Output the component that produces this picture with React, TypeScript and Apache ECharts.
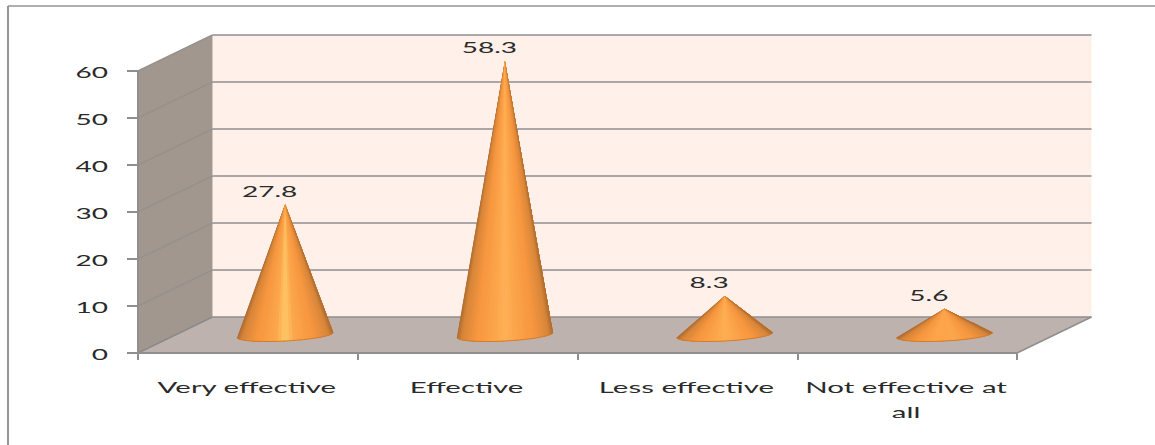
import React, { useEffect, useRef } from "react";
import * as echarts from "echarts";

const categories = ["Very effective", "Effective", "Less effective", "Not effective at\nall"];
const values = [27.8, 58.3, 8.3, 5.6];
const yTicks = [0, 10, 20, 30, 40, 50, 60];

// Centre highlight of each cone's shading, brightest on the first.
const coneHighlights = ["#ffc768", "#ffb056", "#ffb052", "#ffa24a"];

const DEPTH_X = 74.5;
const DEPTH_Y = -36;
const CONE_RX = 48;
const CONE_RY = 6;
const CONE_TILT = 2.5;
const STRIPS = 40;
const GRID_COLOR = "#8f8f8f";
const TEXT_COLOR = "#2a2a2a";
const FONT = "16px Lato, sans-serif";
const NUMBER_STRETCH = 1.75;
const CATEGORY_STRETCH = 1.84;

const hexToRgb = (hex: string) => [1, 3, 5].map((i) => parseInt(hex.slice(i, i + 2), 16));

// Colour across the cone, t running from its left silhouette (0) to its right one (1).
function shade(t: number, highlight: string) {
  const stops: [number, string][] = [
    [0, "#b06c30"],
    [0.05, "#d68539"],
    [0.2, "#f7963f"],
    [0.4, "#fca64b"],
    [0.5, highlight],
    [0.6, "#fca64b"],
    [0.8, "#f7963f"],
    [0.95, "#d8873a"],
    [1, "#b06c30"],
  ];
  let i = 0;
  while (i < stops.length - 2 && t > stops[i + 1][0]) i++;
  const [t0, c0] = stops[i];
  const [t1, c1] = stops[i + 1];
  const f = Math.min(1, Math.max(0, (t - t0) / (t1 - t0)));
  const a = hexToRgb(c0);
  const b = hexToRgb(c1);
  return `rgb(${a.map((v, k) => Math.round(v + (b[k] - v) * f)).join(",")})`;
}

// Back wall, side wall and floor of the 3D box, sized from the plot rectangle.
function renderWalls(params: any) {
  const { x, y, width, height } = params.coordSys;
  const bottom = y + height;
  const poly = (points: number[][], fill: string) => ({
    type: "polygon",
    shape: { points },
    style: { fill },
  });
  return {
    type: "group",
    children: [
      poly(
        [
          [x + DEPTH_X, y + DEPTH_Y],
          [x + width + DEPTH_X, y + DEPTH_Y],
          [x + width + DEPTH_X, bottom + DEPTH_Y],
          [x + DEPTH_X, bottom + DEPTH_Y],
        ],
        "#fff0e9"
      ),
      poly(
        [
          [x, y],
          [x + DEPTH_X, y + DEPTH_Y],
          [x + DEPTH_X, bottom + DEPTH_Y],
          [x, bottom],
        ],
        "#a1978f"
      ),
      poly(
        [
          [x, bottom],
          [x + DEPTH_X, bottom + DEPTH_Y],
          [x + width + DEPTH_X, bottom + DEPTH_Y],
          [x + width, bottom],
        ],
        "#bdb2ae"
      ),
    ],
  };
}

// One gridline per tick: along the side wall, then across the back wall.
function renderGridline(params: any, api: any) {
  const { x, width } = params.coordSys;
  const py = api.coord([0, api.value(1)])[1];
  const backY = py + DEPTH_Y;
  return {
    type: "group",
    children: [
      {
        type: "line",
        shape: { x1: x, y1: py, x2: x + DEPTH_X, y2: backY },
        style: { stroke: api.value(1) === 0 ? "#8a8a8a" : "#96918c", lineWidth: 1.5 },
      },
      {
        type: "line",
        shape: { x1: x + DEPTH_X, y1: backY, x2: x + width + DEPTH_X, y2: backY },
        style: { stroke: GRID_COLOR, lineWidth: 1.5 },
      },
      ...(api.value(1) === 0
        ? [
            {
              type: "line",
              shape: { x1: x + width, y1: py, x2: x + width + DEPTH_X, y2: backY },
              style: { stroke: GRID_COLOR, lineWidth: 1.5 },
            },
          ]
        : []),
    ],
  };
}

// A cone seen from slightly above. Each sweep runs from the apex over the remaining
// front rim and is painted over the one before it, so the shading has no seams.
function renderCone(params: any, api: any) {
  const index = api.value(0);
  const [tipX, tipY0] = api.coord([index, api.value(1)]);
  const baseY0 = api.coord([index, 0])[1];
  const cx = tipX + DEPTH_X / 2;
  const cy = baseY0 + DEPTH_Y / 2;
  const tipY = tipY0 + DEPTH_Y / 2;
  const rim = (a: number) => [
    cx - CONE_RX * Math.cos(a),
    cy + CONE_TILT * Math.cos(a) + CONE_RY * Math.sin(a),
  ];
  const rimPoints = Array.from({ length: STRIPS + 1 }, (_, i) => rim((Math.PI * i) / STRIPS));
  const children: any[] = [];
  for (let i = 0; i < STRIPS; i++) {
    const mid = (Math.PI * (i + 0.5)) / STRIPS;
    const t = (1 - Math.cos(mid)) / 2;
    children.push({
      type: "polygon",
      shape: { points: [[cx, tipY], ...rimPoints.slice(i)] },
      style: { fill: shade(t, coneHighlights[index]) },
    });
  }
  children.push({
    type: "polyline",
    shape: { points: rimPoints },
    style: { fill: "none", stroke: "#d07c2e", lineWidth: 1 },
  });
  return { type: "group", children };
}

const stretchedText = (
  text: string,
  x: number,
  y: number,
  textAlign: string,
  scaleX: number
) => ({
  type: "text",
  x,
  y,
  scaleX,
  style: {
    text,
    textAlign,
    textVerticalAlign: "middle",
    font: FONT,
    fill: TEXT_COLOR,
    lineHeight: 25,
  },
});

function renderValueLabel(params: any, api: any) {
  const index = api.value(0);
  const value = api.value(1);
  const [px, py] = api.coord([index, value]);
  return stretchedText(
    String(value),
    px + DEPTH_X / 2 - 15.5,
    py + DEPTH_Y / 2 - 14,
    "center",
    NUMBER_STRETCH
  );
}

function renderCategoryLabel(params: any, api: any) {
  const index = api.value(0);
  const [px, py] = api.coord([index, 0]);
  const twoLines = categories[index].includes("\n");
  return stretchedText(
    categories[index],
    px - 1,
    py + (twoLines ? 46 : 33.5),
    "center",
    CATEGORY_STRETCH
  );
}

function renderTickLabel(params: any, api: any) {
  const py = api.coord([0, api.value(1)])[1];
  return stretchedText(String(api.value(1)), params.coordSys.x - 30, py + 1, "right", NUMBER_STRETCH);
}

const customSeries = (renderItem: any, data: number[][], z: number) => ({
  type: "custom",
  renderItem,
  data,
  z,
  silent: true,
  clip: false,
});

export default function App() {
  const ref = useRef<HTMLDivElement>(null);

  useEffect(() => {
    const chart = echarts.init(ref.current!, undefined, { renderer: "svg" });
    const axisStyle = { lineStyle: { color: GRID_COLOR, width: 2 } };
    chart.setOption({
      animation: false,
      backgroundColor: "#ffffff",
      grid: { left: 138, right: 138, top: 71, bottom: 92 },
      xAxis: {
        type: "category",
        data: categories,
        z: 3,
        axisLine: axisStyle,
        axisTick: { show: true, length: 7, ...axisStyle },
        axisLabel: { show: false },
        splitLine: { show: false },
      },
      yAxis: {
        type: "value",
        min: 0,
        max: 60,
        interval: 10,
        z: 3,
        axisLine: { show: true, ...axisStyle },
        axisTick: { show: true, length: 11, ...axisStyle },
        axisLabel: { show: false },
        splitLine: { show: false },
      },
      graphic: [
        {
          type: "line",
          shape: { x1: 8, y1: 6, x2: 1155, y2: 6 },
          style: { stroke: "#959595", lineWidth: 1.5 },
        },
        {
          type: "line",
          shape: { x1: 8, y1: 6, x2: 8, y2: 445 },
          style: { stroke: "#959595", lineWidth: 2 },
        },
      ],
      series: [
        customSeries(renderWalls, [[0, 0]], 1),
        customSeries(renderGridline, yTicks.map((t) => [0, t]), 2),
        customSeries(renderCone, values.map((v, i) => [i, v]), 4),
        customSeries(renderValueLabel, values.map((v, i) => [i, v]), 5),
        customSeries(renderCategoryLabel, categories.map((_, i) => [i, 0]), 5),
        customSeries(renderTickLabel, yTicks.map((t) => [0, t]), 5),
      ],
    });
    return () => chart.dispose();
  }, []);

  return (
    <div
      ref={ref}
      style={{ position: "absolute", left: 0, top: 0, width: 1155, height: 445 }}
    />
  );
}
